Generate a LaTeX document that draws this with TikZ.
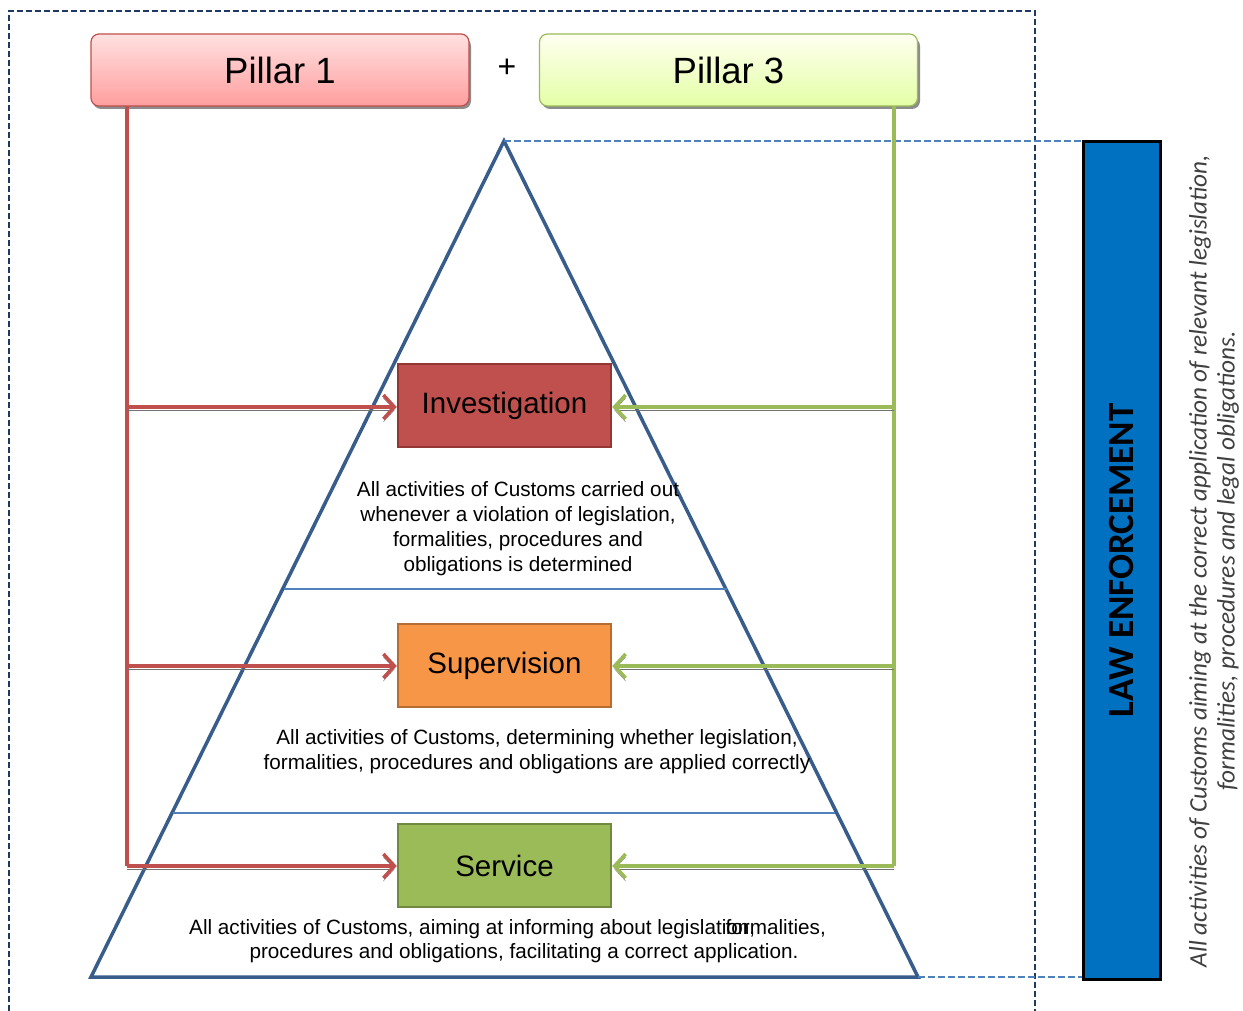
\documentclass[tikz,border=0pt]{standalone}
\usepackage{fontspec}
\setmainfont{Liberation Sans}
\newfontfamily\calfont{Carlito}
\usetikzlibrary{arrows.meta}
\definecolor{redc}{HTML}{C0504D}
\definecolor{redd}{HTML}{943634}
\definecolor{greenc}{HTML}{9BBB59}
\definecolor{greend}{HTML}{71893F}
\definecolor{orangec}{HTML}{F79646}
\definecolor{oranged}{HTML}{B66D31}
\definecolor{navyc}{HTML}{1F3864}
\definecolor{tric}{HTML}{385D8A}
\definecolor{linec}{HTML}{4F81BD}
\definecolor{lawc}{HTML}{0070C0}
\tikzset{
  pillar/.style={rounded corners=8pt, minimum width=378pt, minimum height=72pt, line width=1.2pt, font=\fontsize{36.5}{40}\selectfont, inner sep=0pt},
  levelbox/.style={minimum width=213pt, minimum height=83pt, line width=2.5pt, font=\fontsize{29.5}{32}\selectfont, inner sep=0pt},
  bodytext/.style={align=center, font=\fontsize{20.7}{25}\selectfont, inner sep=0pt},
  feed/.style={line width=3.5pt, -{Straight Barb[length=11pt,width=24pt,line width=3.5pt]}, preaction={draw=black!55, transform canvas={yshift=-3pt}}},
  trunk/.style={line width=3.5pt},
  helper/.style={draw=linec, line width=1.2pt, dash pattern=on 7pt off 3pt},
}
\begin{document}
\begin{tikzpicture}[x=1pt,y=-1pt]
\useasboundingbox[fill=white] (0,0) rectangle (1243,1011);
% outer dashed frame
\draw[navyc, line width=1.4pt, dash pattern=on 6pt off 3pt] (9,1011) -- (9,11) -- (1035,11) -- (1035,1011);

% pillars (shadows first)
\fill[black!45, rounded corners=8pt] (93,38) rectangle (471,109);
\fill[black!45, rounded corners=8pt] (542,38) rectangle (920,109);
\node[pillar, draw=redc, top color=red!12, bottom color=red!38!white] (p1) at (280,70) {Pillar 1};
\node[pillar, draw=greenc, top color=green!6!yellow!6, bottom color=green!30!yellow!35] (p3) at (728.5,70) {Pillar 3};
\node[font=\fontsize{32}{36}\selectfont, inner sep=0pt] (plus) at (507,68) {+};

% pyramid
\coordinate (apex) at (504,141);
\coordinate (bl) at (91,977);
\coordinate (br) at (918,977);
\draw[tric, line width=3.5pt, line join=miter] (apex) -- (bl) -- (br) -- cycle;
\coordinate (h1l) at (284,589); \coordinate (h1r) at (727,589);
\coordinate (h2l) at (173,813); \coordinate (h2r) at (835,813);
\draw[linec, line width=2.2pt] (h1l) -- (h1r);
\draw[linec, line width=2.2pt] (h2l) -- (h2r);

% helper dashed lines
\coordinate (lawtop) at (1083,141);
\coordinate (lawbot) at (1083,977);
\draw[helper] (apex) -- (lawtop);
\draw[helper] (br) -- (lawbot);

% level boxes
\node[levelbox, fill=redc, draw=redd] (inv) at (504.5,405.5) {Investigation};
\node[levelbox, fill=orangec, draw=oranged] (sup) at (504.5,665.5) {Supervision};
\node[levelbox, fill=greenc, draw=greend] (ser) at (504.5,865.5) {Service};

% trunks
\coordinate (rtop) at (127,106); \coordinate (rbot) at (127,866);
\coordinate (gtop) at (894,106); \coordinate (gbot) at (894,866);
\draw[trunk, redc] (rtop) -- (rbot);
\draw[trunk, greenc] (gtop) -- (gbot);
\coordinate (r1) at (127,407); \coordinate (r2) at (127,666); \coordinate (r3) at (127,866);
\coordinate (g1) at (894,407); \coordinate (g2) at (894,666); \coordinate (g3) at (894,866);
\draw[feed, redc] (r1) -- (inv.west |- r1);
\draw[feed, redc] (r2) -- (sup.west |- r2);
\draw[feed, redc] (r3) -- (ser.west |- r3);
\draw[feed, greenc] (g1) -- (inv.east |- g1);
\draw[feed, greenc] (g2) -- (sup.east |- g2);
\draw[feed, greenc] (g3) -- (ser.east |- g3);

% descriptions
\node[bodytext] (tinv) at (518,529) {All activities of Customs carried out\\whenever a violation of legislation,\\formalities, procedures and\\obligations is determined};
\node[bodytext] (tsup) at (537,752) {All activities of Customs, determining whether legislation,\\formalities, procedures and obligations are applied correctly};
\node[bodytext, anchor=base west] (tser1) at (189,934) {All activities of Customs, aiming at informing about legislation,};
\node[bodytext, anchor=base east] (tser2) at (826,934) {formalities,};
\node[bodytext] (tser3) at (524,953) {procedures and obligations, facilitating a correct application.};

% law enforcement bar
\node[draw=black, line width=3pt, fill=lawc, minimum width=838pt, minimum height=77pt, rotate=90, inner sep=0pt,
  font=\calfont\bfseries\fontsize{37}{40}\selectfont] (law) at (1121.5,560.5) {LAW ENFORCEMENT};
\node[rotate=90, align=center, text=black!75, font=\calfont\itshape\fontsize{25.2}{28}\selectfont, inner sep=0pt] (lawtext) at (1214,561)
  {All activities of Customs aiming at the correct application of relevant legislation,\\formalities, procedures and legal obligations.};
\end{tikzpicture}
\end{document}
